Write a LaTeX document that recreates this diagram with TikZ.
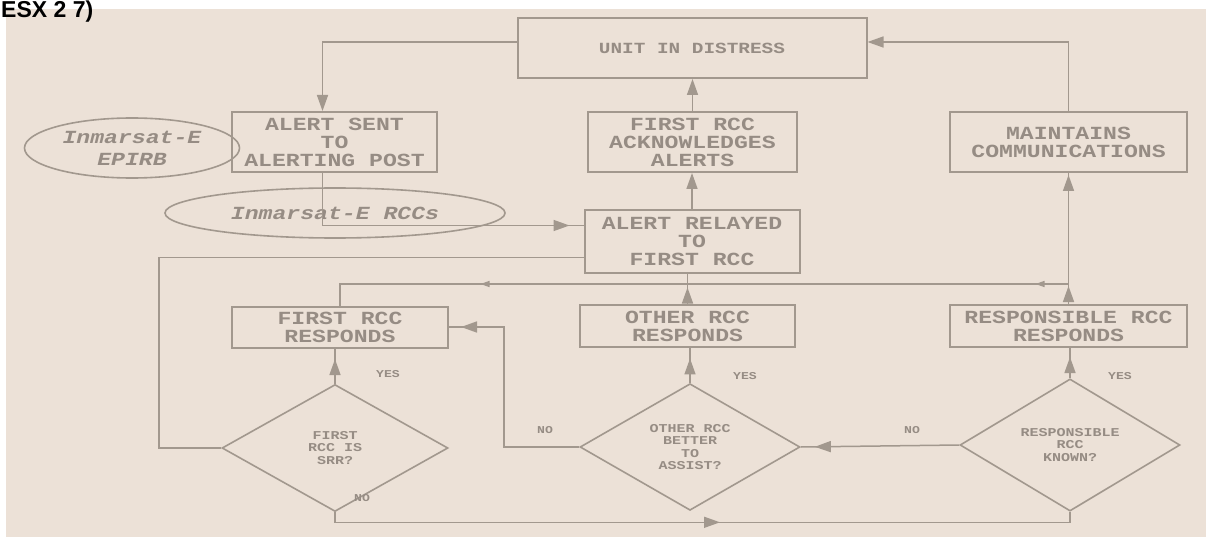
\documentclass[tikz,border=0pt]{standalone}
\usepackage{fontspec}
\setmainfont{Liberation Sans}
\newfontfamily\boxfont[FakeStretch=1.25]{Liberation Mono}
\usetikzlibrary{arrows.meta,shapes.geometric,decorations.markings,calc}
\definecolor{bg}{RGB}{236,225,215}
\definecolor{ln}{RGB}{162,152,142}
\definecolor{tx}{RGB}{150,140,132}
\tikzset{
  box/.style={draw=ln,line width=2pt,rectangle,inner sep=0pt,align=center,text=tx,
    font=\boxfont\bfseries\fontsize{18.5}{18}\selectfont},
  dia/.style={draw=ln,line width=1.6pt,diamond,inner sep=0pt,align=center,text=tx,
    font=\boxfont\bfseries\fontsize{12}{12.5}\selectfont},
  ell/.style={draw=ln,line width=1.6pt,ellipse,inner sep=0pt,align=center,text=tx,
    font=\boxfont\bfseries\itshape\fontsize{18.5}{22}\selectfont},
  lbl/.style={text=tx,inner sep=0pt,font=\boxfont\bfseries\fontsize{10.5}{10}\selectfont},
  hdr/.style={anchor=base west,inner sep=0pt,font=\bfseries\fontsize{23}{23}\selectfont},
  conn/.style={draw=ln,line width=1.5pt},
  tip/.style={-{Triangle[length=16pt,width=11pt]}},
  midtip/.style={postaction=decorate,decoration={markings,
    mark=at position #1 with {\arrow[color=ln]{Triangle[length=16pt,width=11pt]}}}},
}
\begin{document}
\begin{tikzpicture}[x=1pt,y=-1pt]
\clip (0,0) rectangle (1206,537);
\useasboundingbox (0,0) rectangle (1206,537);
\fill[white] (0,0) rectangle (1206,537);
\fill[bg] (6,9) rectangle (1206,537);
\node[hdr] (hdr) at (1,17.5) {ESX 2 7)};

% ellipses
\node[ell,minimum width=215pt,minimum height=60pt] (e1) at (132,148) {Inmarsat-E\\EPIRB};
\node[ell,minimum width=340pt,minimum height=50pt] (e2) at (335,213) {Inmarsat-E RCCs};

% boxes
\node[box,minimum width=349pt,minimum height=60pt,font=\boxfont\bfseries\fontsize{15.5}{18}\selectfont] (unit) at (692,48) {UNIT IN DISTRESS};
\node[box,minimum width=205pt,minimum height=60pt] (sent) at (334.5,142) {ALERT SENT\\TO\\ALERTING POST};
\node[box,minimum width=209pt,minimum height=60pt] (ack) at (692.5,142) {FIRST RCC\\ACKNOWLEDGES\\ALERTS};
\node[box,minimum width=237pt,minimum height=60pt] (maint) at (1068.5,142) {MAINTAINS\\COMMUNICATIONS};
\node[box,minimum width=215pt,minimum height=63pt] (relay) at (692,241.5) {ALERT RELAYED\\TO\\FIRST RCC};
\node[box,minimum width=216pt,minimum height=41pt] (first) at (340,327) {FIRST RCC\\RESPONDS};
\node[box,minimum width=215pt,minimum height=42pt] (other) at (687.5,326) {OTHER RCC\\RESPONDS};
\node[box,minimum width=237pt,minimum height=42pt] (resp) at (1068.5,326) {RESPONSIBLE RCC\\RESPONDS};

% decisions
\node[dia,minimum width=226pt,minimum height=127pt] (d1) at (335,448) {FIRST\\RCC IS\\SRR?};
\node[dia,minimum width=220pt,minimum height=125pt] (d2) at (690,447) {OTHER RCC\\BETTER\\TO\\ASSIST?};
\node[dia,minimum width=220pt,minimum height=120pt] (d3) at (1070,445) {RESPONSIBLE\\RCC\\KNOWN?};

% labels
\node[lbl] (y1) at (388,374) {YES};
\node[lbl] (y2) at (745,376) {YES};
\node[lbl] (y3) at (1120,376) {YES};
\node[lbl] (n1) at (362,498) {NO};
\node[lbl] (n2) at (545,430) {NO};
\node[lbl] (n3) at (912,430) {NO};

% connectors
\draw[conn,tip] ([yshift=6pt]unit.west) -| ([xshift=-12pt]sent.north);
\draw[conn,tip] (ack.north) -- (ack.north |- unit.south);
\draw[conn,tip] (maint.north) |- ([yshift=6pt]unit.east);
\draw[conn,midtip=-14pt] ([xshift=-12pt]sent.south) |- ([yshift=16pt]relay.west);
\draw[conn,tip] (relay.north) -- (relay.north |- ack.south);
\draw[conn,midtip=0.55] (other.north) -- (other.north |- relay.south);
\draw[conn,postaction=decorate,decoration={markings,
   mark=at position 18pt with {\arrow[color=ln]{Triangle[length=16pt,width=11pt]}},
   mark=at position -2pt with {\arrow[color=ln]{Triangle[length=16pt,width=11pt]}}}]
   (resp.north) -- (resp.north |- maint.south);
\coordinate (jr) at ($(resp.north)+(0,-20)$);
\draw[conn,postaction=decorate,decoration={markings,
   mark=at position 33pt with {\arrow[color=ln]{Triangle[length=9pt,width=6pt]}},
   mark=at position 588pt with {\arrow[color=ln]{Triangle[length=9pt,width=6pt]}}}]
   (jr) -| (first.north);
\draw[conn,midtip=0.7] (d1.north) -- (d1.north |- first.south);
\draw[conn,midtip=0.7] (d2.north) -- (d2.north |- other.south);
\draw[conn,midtip=0.7] (d3.north) -- (d3.north |- resp.south);
\draw[conn,midtip=-14pt] (d3.west) -- (d2.east);
\draw[conn,midtip=-12pt] (d2.west) -- ++(-75,0) |- (first.east);
\draw[conn] (d1.west) -- ++(-62,0) |- ([yshift=-16pt]relay.west);
\draw[conn,midtip=395pt] (d1.south) -- ++(0,10) -| (d3.south);
\end{tikzpicture}
\end{document}
